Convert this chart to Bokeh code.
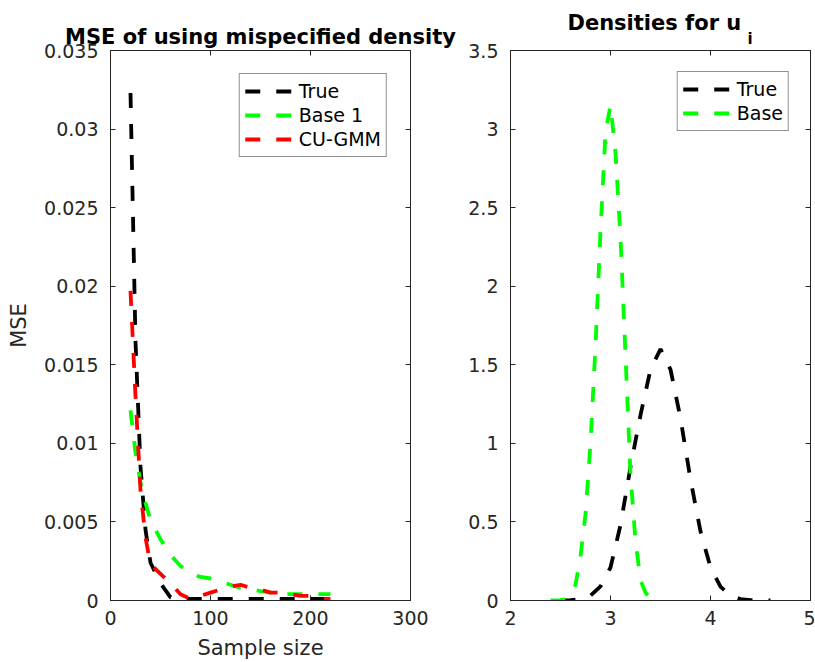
from bokeh.plotting import figure
from bokeh.models import (Range1d, FixedTicker, LinearAxis, Legend, LegendItem,
                          Title, CustomJSTickFormatter)
from bokeh.layouts import row
from bokeh.embed import file_html
from bokeh.resources import INLINE

# ---------------- data ----------------
sample_size = [20, 25, 30, 35, 40, 50, 60, 70, 80, 90, 100, 110, 120, 130,
               140, 150, 160, 170, 180, 190, 200, 210, 220]
mse_true = [0.0323, 0.0165, 0.0085, 0.0045, 0.0024, 0.0011, 0.0002, 0.0001,
            0.0001, 0.0001, 0.0001, 0.0001, 0.0001, 0.0001, 0.0001, 0.0001,
            0.0001, 0.0001, 0.0001, 0.0001, 0.0001, 0.0001, 0.0001]
mse_base1 = [0.0121, 0.0094, 0.0075, 0.0062, 0.0051, 0.0039, 0.0029, 0.0022,
             0.0017, 0.0015, 0.0014, 0.0012, 0.0010, 0.0008, 0.0007, 0.0006,
             0.0005, 0.0004, 0.0004, 0.0004, 0.0004, 0.0004, 0.0004]
mse_cugmm = [0.0197, 0.0130, 0.0070, 0.0040, 0.0023, 0.0017, 0.0011, 0.0004,
             0.0001, 0.0003, 0.0005, 0.0007, 0.0009, 0.0010, 0.0008, 0.0007,
             0.0005, 0.0005, 0.0004, 0.0003, 0.0003, 0.0001, 0.0001]

u_true_x = [2.5, 2.6, 2.7, 2.8, 2.9, 3.0, 3.1, 3.2, 3.3, 3.4, 3.5, 3.6, 3.7,
            3.8, 3.9, 4.0, 4.1, 4.2, 4.3, 4.4, 4.5, 4.6]
u_true = [0.001, 0.002, 0.009, 0.031, 0.09, 0.21, 0.48, 0.85, 1.18, 1.47, 1.60,
          1.47, 1.16, 0.77, 0.44, 0.21, 0.088, 0.031, 0.009, 0.002, 0.001, 0.001]
u_base_x = [2.40, 2.45, 2.50, 2.55, 2.60, 2.65, 2.70, 2.75, 2.80, 2.85, 2.90,
            2.95, 3.00, 3.05, 3.10, 3.15, 3.20, 3.25, 3.30, 3.35, 3.40, 3.45, 3.50]
u_base = [0.001, 0.001, 0.002, 0.008, 0.03, 0.10, 0.28, 0.55, 1.00, 1.62, 2.35,
          2.98, 3.15, 2.85, 2.31, 1.56, 0.80, 0.38, 0.13, 0.05, 0.015, 0.004, 0.001]

mse_xticks = [0, 100, 200, 300]
mse_yticks = [0, 0.005, 0.01, 0.015, 0.02, 0.025, 0.03, 0.035]
u_xticks = [2, 3, 4, 5]
u_yticks = [0, 0.5, 1, 1.5, 2, 2.5, 3, 3.5]

FONT = "DejaVu Sans"
AX = "#262626"
DASH = "15 16"
LW = 3.8


def style(p, xt, yt, xlabel=None, ylabel=None):
    p.grid.visible = False
    p.outline_line_color = AX
    p.outline_line_width = 1
    p.background_fill_color = "white"
    p.border_fill_color = "white"
    bx, ly = p.below[0], p.left[0]
    for ax in (bx, ly):
        ax.axis_line_color = AX
        ax.major_tick_line_color = AX
        ax.major_tick_in = 5
        ax.major_tick_out = 0
        ax.minor_tick_line_color = None
        ax.major_label_text_font = FONT
        ax.major_label_text_font_size = "19px"
        ax.major_label_text_color = AX
        ax.axis_label_text_font = FONT
        ax.axis_label_text_font_size = "21px"
        ax.axis_label_text_font_style = "normal"
        ax.axis_label_text_color = AX
        ax.formatter = CustomJSTickFormatter(code="return String(tick);")
    bx.ticker = FixedTicker(ticks=xt)
    ly.ticker = FixedTicker(ticks=yt)
    bx.major_label_standoff = 10
    ly.major_label_standoff = 12
    if xlabel:
        bx.axis_label = xlabel
        bx.axis_label_standoff = 8
    if ylabel:
        ly.axis_label = ylabel
        ly.axis_label_standoff = 10
    for ticks, side in ((xt, "above"), (yt, "right")):
        ax = LinearAxis(ticker=FixedTicker(ticks=ticks),
                        formatter=CustomJSTickFormatter(code="return '';"),
                        major_label_text_font_size="1px",
                        major_label_standoff=0, major_tick_in=5,
                        major_tick_out=0, minor_tick_line_color=None,
                        axis_line_color=AX, major_tick_line_color=AX)
        p.add_layout(ax, side)


def make_legend(items, margin_px):
    return Legend(items=items, location="top_right", margin=margin_px,
                  label_text_font=FONT, label_text_font_size="19px",
                  label_text_color="black", label_standoff=6,
                  glyph_width=48, glyph_height=24, label_height=24,
                  spacing=0, padding=5, border_line_color=AX,
                  border_line_width=1, background_fill_alpha=1)


def make_title(text, size, align, offset, standoff):
    return Title(text=text, text_font=FONT, text_font_size=size,
                 text_font_style="bold", text_color="black", align=align,
                 offset=offset, standoff=standoff)


# ---------------- left: MSE ----------------
p1 = figure(width=460, height=662, x_range=Range1d(0, 300),
            y_range=Range1d(0, 0.035), output_backend="svg",
            toolbar_location=None, title_location=None,
            min_border_left=110, min_border_right=50,
            min_border_top=50, min_border_bottom=62)
style(p1, mse_xticks, mse_yticks, xlabel="Sample size", ylabel="MSE")
p1.add_layout(make_title("MSE of using mispecified density", "21px",
                         "center", 0, 4), "above")

r_true = p1.line(sample_size, mse_true, line_color="black", line_width=LW,
                 line_dash=DASH)
r_base = p1.line(sample_size, mse_base1, line_color="#00ff00", line_width=LW,
                 line_dash=DASH)
r_cu = p1.line(sample_size, mse_cugmm, line_color="#ff0000", line_width=LW,
               line_dash=DASH)
p1.add_layout(make_legend([LegendItem(label="True", renderers=[r_true]),
                           LegendItem(label="Base 1", renderers=[r_base]),
                           LegendItem(label="CU-GMM", renderers=[r_cu])], 23))

# ---------------- right: densities ----------------
p2 = figure(width=355, height=662, x_range=Range1d(2, 5),
            y_range=Range1d(0, 3.5), output_backend="svg",
            toolbar_location=None, title_location=None,
            min_border_left=50, min_border_right=5,
            min_border_top=50, min_border_bottom=62)
style(p2, u_xticks, u_yticks)
p2.add_layout(make_title("i", "15px", "left", 237, 6), "above")
p2.add_layout(make_title("Densities for u", "21px", "left", 57, -20), "above")

s_true = p2.line(u_true_x, u_true, line_color="black", line_width=LW,
                 line_dash=DASH)
s_base = p2.line(u_base_x, u_base, line_color="#00ff00", line_width=LW,
                 line_dash=DASH)
p2.add_layout(make_legend([LegendItem(label="True", renderers=[s_true]),
                           LegendItem(label="Base", renderers=[s_base])], 21))

layout = row(p1, p2)
open("out.html", "w").write(file_html(layout, INLINE))
